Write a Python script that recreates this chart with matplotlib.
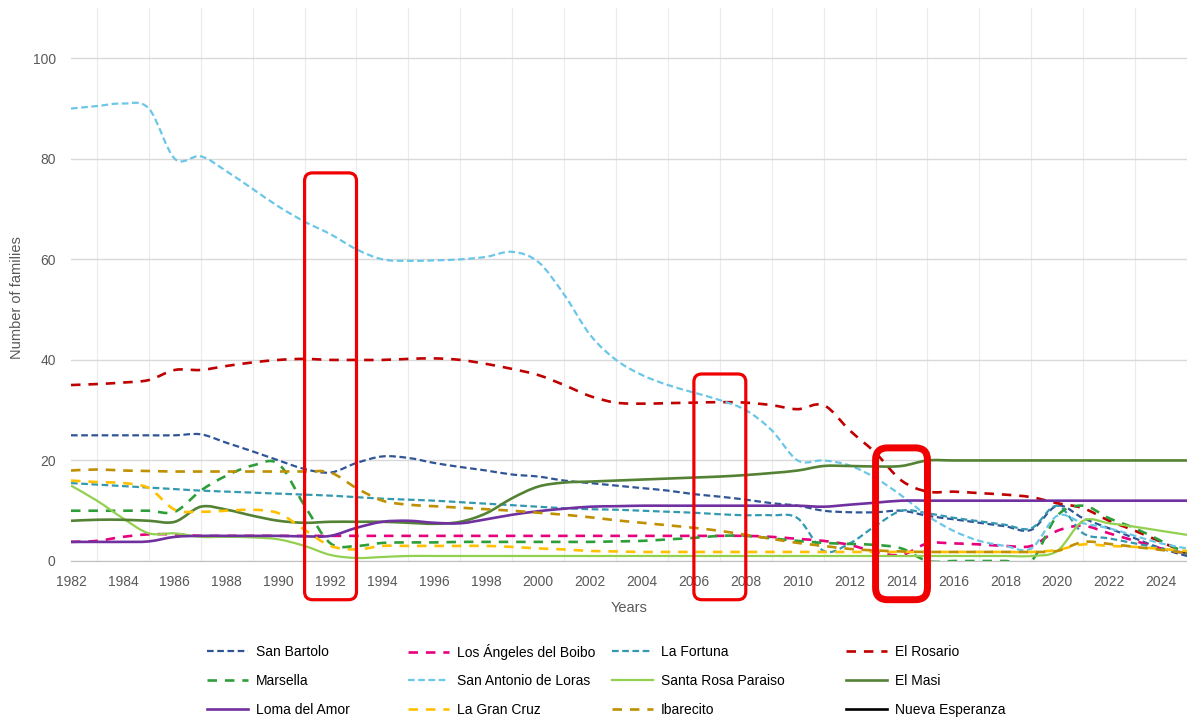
import numpy as np
import matplotlib
matplotlib.use('Agg')
import matplotlib.pyplot as plt
from matplotlib.path import Path
from matplotlib.patches import PathPatch, FancyBboxPatch
from matplotlib.lines import Line2D

years = list(range(1982, 2026))

san_bartolo = [25, 25, 25, 25, 25, 25.2, 23.5, 21.8, 20, 18.3, 17.6, 19.5, 20.8, 20.5, 19.5, 18.7,
               18, 17.2, 16.8, 16, 15.5, 15, 14.5, 14, 13.3, 12.8, 12.2, 11.5, 11, 10, 9.7, 9.7,
               10, 9, 8.3, 7.6, 6.9, 6.2, 11, 8.5, 6.5, 4.5, 2.5, 1]
los_angeles = [3.8, 4, 4.8, 5.3, 5.3, 5, 5, 5, 5, 5, 5, 5, 5, 5, 5, 5,
               5, 5, 5, 5, 5, 5, 5, 5, 5, 5, 5, 4.8, 4.4, 4, 3.2, 1.8,
               1.2, 3.5, 3.5, 3.3, 3, 3, 6, 7, 5.5, 4, 2.5, 1.5]
la_fortuna = [15.5, 15.2, 14.9, 14.6, 14.3, 14, 13.8, 13.6, 13.4, 13.2, 13, 12.7, 12.4, 12.2, 12, 11.7,
              11.4, 11.1, 10.8, 10.5, 10.3, 10.2, 10, 9.8, 9.6, 9.3, 9.1, 9.1, 8.5, 2, 3.5, 7,
              10, 9.5, 8.6, 7.9, 7.2, 6.5, 11, 5.5, 4.5, 3.5, 2.5, 1.5]
el_rosario = [35, 35.2, 35.5, 36, 38, 38, 38.8, 39.5, 40, 40.2, 40, 40, 40, 40.2, 40.3, 40,
              39.2, 38.2, 37, 35, 32.8, 31.5, 31.3, 31.4, 31.5, 31.6, 31.5, 31, 30.2, 31, 26, 21.5,
              16, 13.8, 13.8, 13.5, 13.2, 12.7, 11.5, 10.5, 8, 6, 3.8, 1.5]
marsella = [10, 10, 10, 10, 9.8, 14, 17, 19, 19.3, 11, 3.5, 3, 3.6, 3.7, 3.7, 3.8,
            3.8, 3.8, 3.8, 3.8, 3.8, 3.9, 4, 4.3, 4.6, 5, 5, 4.5, 4, 3.6, 3.4, 3.2,
            2.5, 0, 0, 0, 0, 0, 9, 11, 8.5, 6.5, 4, 1.5]
san_antonio = [90, 90.5, 91, 90, 80, 80.5, 77.5, 74, 70.5, 67.5, 65, 62, 60, 59.7, 59.8, 60,
               60.5, 61.5, 59.5, 53, 45, 40, 37, 35, 33.5, 32, 30, 26, 20, 20, 19, 16.5,
               13, 9, 6, 4, 3, 2.5, 9, 7.5, 6.5, 5, 3.5, 2.5]
santa_rosa = [15, 12, 8.5, 5.5, 5.5, 4.8, 4.8, 4.7, 4.3, 3, 1.2, 0.6, 0.8, 1, 1, 1,
              1, 1, 1, 1, 1, 1, 1, 1, 1, 1, 1, 1, 1, 1, 1, 1,
              1, 1, 1, 1, 1, 1, 2, 8, 7.5, 6.8, 6, 5.2]
el_masi = [8, 8.2, 8.2, 8, 7.8, 10.8, 10.2, 9, 8, 7.6, 7.8, 7.8, 7.8, 7.6, 7.4, 7.8,
           9.5, 12.5, 14.8, 15.6, 15.8, 16, 16.2, 16.4, 16.6, 16.8, 17.1, 17.5, 18, 18.9, 18.9, 18.8,
           18.9, 20, 20, 20, 20, 20, 20, 20, 20, 20, 20, 20]
loma_del_amor = [3.8, 3.8, 3.8, 3.9, 4.8, 5, 5, 5, 5, 4.9, 5, 6.6, 7.8, 8, 7.6, 7.5,
                 8.3, 9.2, 9.9, 10.4, 10.8, 10.9, 11, 11, 11, 11, 11, 11, 11, 10.8, 11.2, 11.6,
                 12, 12, 12, 12, 12, 12, 12, 12, 12, 12, 12, 12]
la_gran_cruz = [16, 15.7, 15.5, 14.5, 10.2, 9.8, 10, 10.2, 9.5, 6.2, 3, 2.3, 3, 3, 3, 3,
                3, 2.8, 2.5, 2.3, 2, 1.9, 1.8, 1.8, 1.8, 1.8, 1.8, 1.8, 1.8, 1.8, 1.8, 1.8,
                1.8, 1.8, 1.8, 1.8, 1.8, 1.8, 2.2, 3.3, 3, 2.8, 2.4, 2]
ibarecito = [18, 18.2, 18, 17.9, 17.8, 17.8, 17.8, 17.8, 17.8, 17.8, 17.6, 14.5, 12, 11.2, 10.9, 10.6,
             10.3, 10, 9.6, 9.2, 8.7, 8.1, 7.6, 7.1, 6.6, 6, 5.2, 4.4, 3.6, 3, 2.4, 2.1,
             1.9, 1.8, 1.8, 1.8, 1.8, 1.8, 2, 3.8, 3.4, 2.8, 2.2, 1.6]
nueva_esperanza = []

highlight_centers = [1992, 2007, 2014]
highlight_tops = [77.2, 37.2, 22.5]

short_dash = (0, (3, 1.6))
long_dash = (0, (3.6, 3))

# name, values, colour, width, style
series = [
    ('San Bartolo', san_bartolo, '#2F5597', 1.6, short_dash),
    ('Los Ángeles del Boibo', los_angeles, '#E6007E', 1.9, long_dash),
    ('La Fortuna', la_fortuna, '#3399B0', 1.6, short_dash),
    ('El Rosario', el_rosario, '#C00000', 1.9, long_dash),
    ('Marsella', marsella, '#2E9E3A', 1.9, long_dash),
    ('San Antonio de Loras', san_antonio, '#6CC6E8', 1.6, short_dash),
    ('Santa Rosa Paraiso', santa_rosa, '#92D050', 1.6, '-'),
    ('El Masi', el_masi, '#548235', 1.9, '-'),
    ('Loma del Amor', loma_del_amor, '#7030A0', 1.9, '-'),
    ('La Gran Cruz', la_gran_cruz, '#FFC000', 1.9, long_dash),
    ('Ibarecito', ibarecito, '#BF9000', 1.9, long_dash),
    ('Nueva Esperanza', nueva_esperanza, '#000000', 1.9, '-'),
]


def smooth_path(x, y):
    # cubic bezier through every point, like a spreadsheet "smoothed line"
    pts = np.column_stack([x, y]).astype(float)
    n = len(pts)
    verts = [pts[0]]
    codes = [Path.MOVETO]
    for i in range(n - 1):
        p0 = pts[i - 1] if i > 0 else pts[i]
        p1 = pts[i]
        p2 = pts[i + 1]
        p3 = pts[i + 2] if i + 2 < n else pts[i + 1]
        verts += [p1 + (p2 - p0) / 6, p2 - (p3 - p1) / 6, p2]
        codes += [Path.CURVE4] * 3
    return Path(verts, codes)


grey = '#595959'
fig = plt.figure(figsize=(11.87, 7.19), dpi=100)
ax = fig.add_axes([71 / 1187, 1 - 561 / 719, 1 - 71 / 1187, (561 - 8) / 719])
ax.set_xlim(1982, 2025)
ax.set_ylim(0, 110)

ax.set_xticks(range(1982, 2025, 2))
ax.set_xticks(range(1982, 2026), minor=True)
ax.set_yticks(range(0, 101, 20))
ax.grid(which='minor', axis='x', color='#EBEBEB', lw=0.8)
ax.grid(which='major', axis='y', color='#D9D9D9', lw=1.0)
ax.set_axisbelow(True)
for s in ['top', 'right', 'left']:
    ax.spines[s].set_visible(False)
ax.spines['bottom'].set_color('#BFBFBF')
ax.tick_params(which='both', length=0, colors=grey, labelsize=10)
ax.tick_params(axis='x', pad=10)
ax.tick_params(axis='y', pad=11)
for lab in ax.get_xticklabels() + ax.get_yticklabels():
    lab.set_fontfamily('Liberation Sans')
ax.set_xlabel('Years', fontsize=10.5, color=grey, family='Liberation Sans', labelpad=9)
fig.text(17 / 1187, 1 - 298 / 719, 'Number of families', rotation=90, fontsize=10.5,
         color=grey, family='Liberation Sans', ha='center', va='center')

handles = []
for name, vals, color, lw, ls in series:
    if len(vals):
        ax.add_patch(PathPatch(smooth_path(years, vals), fill=False, edgecolor=color,
                               lw=lw, linestyle=ls, capstyle='butt', joinstyle='round'))
    handles.append(Line2D([], [], color=color, lw=lw, linestyle=ls))

# rounded red frames around the highlighted years
px_year = ax.bbox.width / 43
px_unit = ax.bbox.height / 110
for k, (cx, top) in enumerate(zip(highlight_centers, highlight_tops)):
    r = (12 if k == 2 else 8) / px_year
    box = FancyBboxPatch((cx - 1.0, -7.7), 2.0, top + 7.7,
                         boxstyle=f'round,pad=0,rounding_size={r}',
                         mutation_aspect=px_year / px_unit,
                         fill=False, edgecolor='#F00000', lw=5 if k == 2 else 2.3,
                         clip_on=False, zorder=5)
    ax.add_patch(box)

# legend: 4 columns x 3 rows, one entry per slot so rows line up
col_x = [207, 408, 612, 846]
row_y = [652, 681, 710]
for i, (name, *_rest) in enumerate(series):
    x = col_x[i % 4]
    y = row_y[i // 4]
    fig.legend([handles[i]], [name], loc='center left',
               bbox_to_anchor=(x / 1187, 1 - y / 719),
               frameon=False, borderpad=0, borderaxespad=0, handlelength=2.95,
               handletextpad=0.55,
               prop={'family': 'Liberation Sans', 'size': 10})

fig.savefig('out.png', dpi=100, facecolor='white')
